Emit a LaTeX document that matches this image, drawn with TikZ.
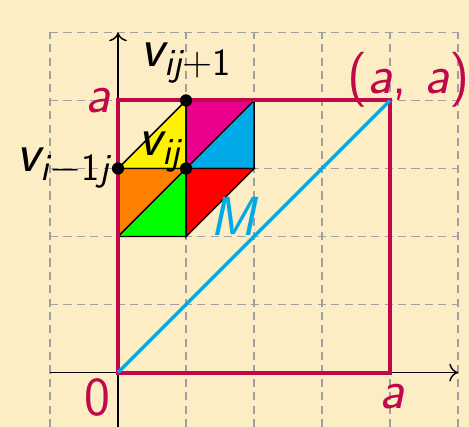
\documentclass[tikz,border=0pt]{standalone}
\usetikzlibrary{positioning,arrows.meta}
\definecolor{bgbeige}{RGB}{253,237,197}
\definecolor{sqred}{RGB}{192,8,74}
\definecolor{diagcyan}{RGB}{0,170,230}
\definecolor{gridgray}{RGB}{160,160,160}
\definecolor{tmagenta}{RGB}{236,0,140}
\definecolor{torange}{RGB}{255,128,0}
\newcommand{\sfit}[1]{\text{\sffamily\itshape #1}}
\newcommand{\sfup}[1]{\text{\sffamily\upshape #1}}
\usepackage{amsmath}

\begin{document}
\begin{tikzpicture}[
  every node/.style={font=\fontsize{23}{27}\selectfont\sffamily},
  gridline/.style={gridgray, line width=0.6pt, dash pattern=on 3.4pt off 2.2pt},
  axis/.style={-{To[length=1.3mm,width=2.6mm]}, line width=0.6pt},
  dot/.style={circle, fill=black, inner sep=0pt, minimum size=0.18cm},
  tri/.style={draw=black, line width=0.6pt},
  lbl/.style={text=sqred, inner sep=1pt}
]
\fill[bgbeige] (-1.735,-0.8) rectangle (5.16,5.477);
\useasboundingbox (-1.735,-0.8) rectangle (5.16,5.477);

% grid and axes
\draw[gridline] (-1,-1) grid (5,5);
\draw[axis] (-1,0) -- (5,0);
\draw[axis] (0,-0.8) -- (0,5);

% coloured triangles round v_ij
\filldraw[tri, fill=yellow] (0,3) -- (1,3) -- (1,4) -- cycle;
\filldraw[tri, fill=tmagenta] (1,3) -- (1,4) -- (2,4) -- cycle;
\filldraw[tri, fill=diagcyan] (1,3) -- (2,4) -- (2,3) -- cycle;
\filldraw[tri, fill=torange] (0,2) -- (0,3) -- (1,3) -- cycle;
\filldraw[tri, fill=green] (0,2) -- (1,3) -- (1,2) -- cycle;
\filldraw[tri, fill=red] (1,2) -- (1,3) -- (2,3) -- cycle;

% square and diagonal
\coordinate (O) at (0,0);
\coordinate (A) at (4,4);
\draw[sqred, line width=1.7pt] (O) rectangle (A);
\draw[diagcyan, line width=1.4pt] (O) -- (A);

% vertices
\node[dot] (vij) at (1,3) {};
\node[dot] (vup) at (1,4) {};
\node[dot] (vleft) at (0,3) {};

% labels
\node[lbl] (la) at (-0.3,4) {\sfit{a}};
\node[lbl] (lzero) at (-0.3,-0.36) {0};
\node[lbl] (lax) at (4.03,-0.36) {\sfit{a}};
\node[lbl] (laa) at (4.27,4.3) {(\sfit{a}, \sfit{a})};
\node[inner sep=1pt] (tup) at (1.0,4.55) {$\sfit{v}_{\sfit{ij}+\sfup{1}}$};
\node[inner sep=1pt] (tleft) at (-0.8,3.0) {$\sfit{v}_{\sfit{i}-\sfup{1}\sfit{j}}$};
\node[inner sep=1pt] (tij) at (0.62,3.24) {$\sfit{v}_{\sfit{ij}}$};
\node[text=diagcyan, inner sep=1pt] (lm) at (1.69,2.29) {\sfit{M}};
\end{tikzpicture}
\end{document}
